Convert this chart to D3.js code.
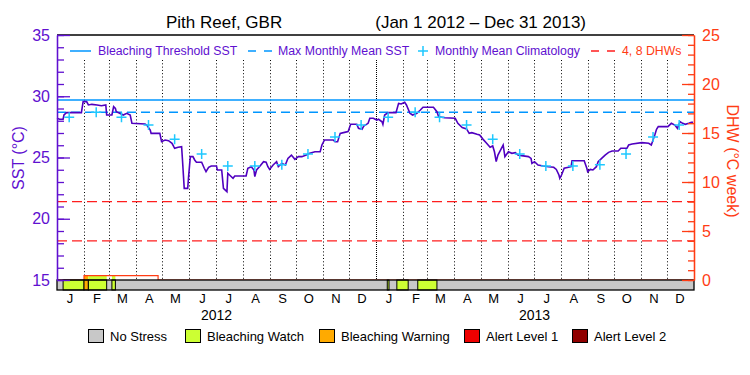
<!DOCTYPE html>
<html>
<head>
<meta charset="utf-8">
<script src="https://cdn.jsdelivr.net/npm/d3@7"></script>
<style>
body { margin: 0; background: #fff; }
text { font-family: "Liberation Sans", Arial, sans-serif; }
</style>
</head>
<body>
<div id="chart"></div>
<script>
// daily SST: days after Jan 1 2012 and value in degC
let sstDay = [0,3,7,8,11,28,30,34,36,40,46,51,56,57,63,65,67,68,72,76,80,84,86,101,103,107,108,118,120,124,
  128,132,134,135,139,143,144,146,150,151,152,153,156,158,160,166,169,171,174,177,183,184,189,191,195,196,198,202,204,217,
  219,223,226,227,229,233,237,240,242,244,248,252,254,258,262,265,269,273,277,281,286,290,296,302,304,307,317,319,322,325,
  330,334,337,344,346,350,352,357,359,363,367,369,373,374,376,380,389,392,395,399,401,405,408,413,417,420,432,436,438,445,
  457,460,465,470,473,476,482,485,489,493,497,500,502,504,506,510,512,514,518,522,526,529,533,541,544,545,548,552,558,564,
  570,573,576,577,579,582,587,590,591,605,608,609,612,615,619,621,625,629,633,637,644,647,654,656,660,671,679,682,684,686,
  688,690,701,705,709,712,715,718,721,725,728,730];
let sstValue = [28.20,28.12,28.12,28.47,28.66,28.66,29.56,29.56,29.29,29.34,29.29,29.23,29.29,28.47,28.47,29.15,29.01,28.74,28.61,28.47,28.61,28.47,27.79,27.73,27.65,27.24,26.97,26.97,26.29,26.43,
  26.37,26.16,25.88,25.75,25.83,25.88,24.80,22.48,22.48,23.44,24.25,25.07,25.07,24.80,24.61,24.61,24.12,23.84,24.20,24.31,24.31,23.98,23.98,22.48,22.21,23.71,23.57,23.30,23.49,23.49,
  24.12,24.25,23.98,23.44,23.98,24.31,24.66,24.61,24.25,24.03,24.39,24.66,24.25,24.52,24.39,24.93,25.20,24.85,25.07,25.07,25.20,25.34,25.47,25.47,26.02,26.43,26.43,26.29,26.29,26.97,
  27.05,27.11,27.71,27.71,27.38,27.30,27.57,27.79,28.20,28.20,28.06,28.12,27.92,27.71,28.47,28.66,28.66,29.42,29.37,29.50,29.29,28.61,28.47,28.61,28.88,29.10,29.10,28.74,28.33,28.25,
  28.20,27.79,27.44,27.33,26.97,27.03,26.89,26.84,26.48,26.16,25.83,25.94,25.47,24.66,25.20,25.75,26.02,25.07,25.47,25.34,25.39,25.20,25.15,25.07,24.93,24.52,24.66,24.39,24.31,24.25,
  24.20,24.03,23.57,23.30,23.57,24.12,24.20,24.25,24.74,24.74,24.12,23.84,24.03,23.98,24.25,24.66,24.93,25.20,25.42,25.53,25.53,25.75,25.75,26.02,26.10,26.21,26.16,26.02,26.43,26.84,
  27.30,27.52,27.52,27.79,27.65,27.38,27.93,27.79,27.71,27.79,27.87,27.87];

// monthly mean climatology (Jan..Dec), plotted mid-month each year
let climValue = [28.28,28.69,28.28,27.65,26.48,25.29,24.31,24.31,24.41,25.28,26.67,27.65];
let climYears = [2012, 2013];

let mmm = 28.69;
let threshold = 29.69;
let dhwLevels = [4, 8];

// degree heating weeks (step)
let dhwDate = ["2012-01-01","2012-02-01","2012-04-26","2013-12-31"];
let dhwValue = [0, 0.45, 0, 0];

// stress periods on the bar
let stressStart = ["2012-01-08","2012-02-01","2012-02-06","2012-03-04","2013-01-14","2013-01-25","2013-02-18"];
let stressEnd   = ["2012-02-01","2012-02-06","2012-02-27","2012-03-08","2013-01-16","2013-02-07","2013-03-12"];
let stressLevel = [1,2,1,1,1,1,1];

let stressNames = ["No Stress","Bleaching Watch","Bleaching Warning","Alert Level 1","Alert Level 2"];
let stressColors = ["#c8c8c8","#ccff33","#ffaa00","#ee0000","#900000"];

let monthLetters = ["J","F","M","A","M","J","J","A","S","O","N","D"];
let yearLabels = ["2012","2013"];
let sstTicks = [15,20,25,30,35];
let dhwTicks = [0,5,10,15,20,25];

var purple = "#6010d0";
var lineColor = "#5000c0";
var orange = "#ff3c14";
var blue = "#0096ff";
var cyan = "#1ec8ff";
var red = "#ff1e1e";

var parse = d3.timeParse("%Y-%m-%d");
var start = new Date(2012, 0, 1);

let svg = d3.select('#chart')
    .append('svg')
    .attr('width', 750)
    .attr('height', 375);

let x = d3.scaleTime()
    .domain([start, new Date(2014, 0, 1)])
    .range([57, 694]);
let yS = d3.scaleLinear()
    .domain([15, 35])
    .range([280, 35]);
let yD = d3.scaleLinear()
    .domain([0, 25])
    .range([280, 35]);

// title
svg.append('text').attr('x', 166).attr('y', 28).attr('font-size', 17).text('Pith Reef, GBR');
svg.append('text').attr('x', 586).attr('y', 28).attr('font-size', 17).attr('text-anchor', 'end')
    .text('(Jan 1 2012 \u2013 Dec 31 2013)');

// month separators
d3.timeMonth.range(new Date(2012, 1, 1), new Date(2014, 0, 1)).forEach(m => {
    let xx = Math.round(x(m)) + 0.5;
    svg.append('line')
        .attr('x1', xx).attr('x2', xx)
        .attr('y1', 60).attr('y2', 280)
        .attr('stroke', 'black')
        .attr('stroke-dasharray', m.getMonth() === 0 ? '1,1' : '1,2.3');
});

// threshold lines
svg.append('line')
    .attr('x1', 57).attr('x2', 694)
    .attr('y1', yS(threshold)).attr('y2', yS(threshold))
    .attr('stroke', blue).attr('stroke-width', 1.5);
svg.append('line')
    .attr('x1', 57).attr('x2', 694)
    .attr('y1', yS(mmm)).attr('y2', yS(mmm))
    .attr('stroke', blue).attr('stroke-width', 1.5)
    .attr('stroke-dasharray', '9,5');
dhwLevels.forEach(v => {
    svg.append('line')
        .attr('x1', 57).attr('x2', 694)
        .attr('y1', yD(v)).attr('y2', yD(v))
        .attr('stroke', red).attr('stroke-width', 1.2)
        .attr('stroke-dasharray', '10,5');
});

// dhw fill coloured by stress level, under the dhw step
function dhwAt(d) {
    let v = 0;
    dhwDate.forEach((s, i) => { if (parse(s) <= d) v = dhwValue[i]; });
    return v;
}
stressStart.forEach((s, i) => {
    let d0 = parse(s), d1 = parse(stressEnd[i]);
    let v = dhwAt(d0);
    if (v > 0) {
        svg.append('rect')
            .attr('x', x(d0)).attr('width', x(d1) - x(d0))
            .attr('y', yD(v)).attr('height', yD(0) - yD(v))
            .attr('fill', stressColors[stressLevel[i]]);
    }
});
let dhwLine = d3.line()
    .x((d, i) => x(parse(d)))
    .y((d, i) => yD(dhwValue[i]))
    .curve(d3.curveStepAfter);
svg.append('path')
    .attr('d', dhwLine(dhwDate))
    .attr('fill', 'none')
    .attr('stroke', orange)
    .attr('stroke-width', 1.2);

// sst
let sstLine = d3.line()
    .x((d, i) => x(d3.timeDay.offset(start, d)))
    .y((d, i) => yS(sstValue[i]));
svg.append('path')
    .attr('d', sstLine(sstDay))
    .attr('fill', 'none')
    .attr('stroke', lineColor)
    .attr('stroke-width', 1.6);

// climatology crosses
climYears.forEach(yr => {
    climValue.forEach((v, m) => {
        let cx = x(new Date(yr, m, 15)), cy = yS(v);
        svg.append('path')
            .attr('d', `M${cx-5},${cy}H${cx+5}M${cx},${cy-5}V${cy+5}`)
            .attr('stroke', cyan)
            .attr('stroke-width', 1.5);
    });
});

// stress bar
svg.append('rect')
    .attr('x', 57).attr('y', 280).attr('width', 637).attr('height', 10)
    .attr('fill', stressColors[0]);
stressStart.forEach((s, i) => {
    let d0 = parse(s), d1 = parse(stressEnd[i]);
    svg.append('rect')
        .attr('x', x(d0)).attr('width', x(d1) - x(d0))
        .attr('y', 280).attr('height', 10)
        .attr('fill', stressColors[stressLevel[i]])
        .attr('stroke', 'black').attr('stroke-width', 1);
});
svg.append('rect')
    .attr('x', 57).attr('y', 280).attr('width', 637).attr('height', 10)
    .attr('fill', 'none').attr('stroke', 'black').attr('stroke-width', 1.3);

// top border
svg.append('line')
    .attr('x1', 57).attr('x2', 694).attr('y1', 35).attr('y2', 35)
    .attr('stroke', 'black').attr('stroke-width', 1.3);

// left axis
let leftMinor = svg.append('g').attr('transform', 'translate(57,0)')
    .call(d3.axisLeft(yS).tickValues(d3.range(15, 36)).tickSizeInner(-7).tickSizeOuter(0).tickFormat(''));
let leftMajor = svg.append('g').attr('transform', 'translate(57,0)')
    .call(d3.axisLeft(yS).tickValues(sstTicks).tickSizeInner(-13).tickSizeOuter(0).tickPadding(7));
[leftMinor, leftMajor].forEach(g => {
    g.selectAll('path, line').attr('stroke', purple).attr('stroke-width', 1.3);
    g.selectAll('text').attr('fill', purple).attr('font-size', 16)
        .attr('font-family', '"Liberation Sans", Arial, sans-serif');
});

// right axis
let rightMinor = svg.append('g').attr('transform', 'translate(694,0)')
    .call(d3.axisRight(yD).tickValues(d3.range(0, 26)).tickSizeInner(-6).tickSizeOuter(0).tickFormat(''));
let rightMajor = svg.append('g').attr('transform', 'translate(694,0)')
    .call(d3.axisRight(yD).tickValues(dhwTicks).tickSizeInner(-12).tickSizeOuter(0).tickPadding(8));
[rightMinor, rightMajor].forEach(g => {
    g.selectAll('path, line').attr('stroke', orange).attr('stroke-width', 1.3);
    g.selectAll('text').attr('fill', orange).attr('font-size', 16)
        .attr('font-family', '"Liberation Sans", Arial, sans-serif');
});

// axis titles
svg.append('text')
    .attr('transform', 'translate(24,158) rotate(-90)')
    .attr('text-anchor', 'middle')
    .attr('font-size', 16).attr('fill', purple)
    .text('SST (\u00b0C)');
svg.append('text')
    .attr('transform', 'translate(727,161) rotate(90)')
    .attr('text-anchor', 'middle')
    .attr('font-size', 16).attr('fill', orange)
    .text('DHW (\u00b0C week)');

// month and year labels
d3.timeMonth.range(start, new Date(2014, 0, 1)).forEach(m => {
    let mid = new Date(m.getFullYear(), m.getMonth(), 16);
    svg.append('text')
        .attr('x', x(mid)).attr('y', 303)
        .attr('text-anchor', 'middle').attr('font-size', 13)
        .text(monthLetters[m.getMonth()]);
});
yearLabels.forEach((yr, i) => {
    let mid = new Date(+yr, 6, 2);
    svg.append('text')
        .attr('x', x(mid)).attr('y', 320)
        .attr('text-anchor', 'middle').attr('font-size', 14)
        .text(yr);
});

// top legend
let ly = 51;
svg.append('line').attr('x1', 70).attr('x2', 91).attr('y1', ly).attr('y2', ly)
    .attr('stroke', blue).attr('stroke-width', 1.5);
svg.append('text').attr('x', 98).attr('y', ly + 4).attr('font-size', 12.3).attr('fill', purple)
    .text('Bleaching Threshold SST');
svg.append('line').attr('x1', 248).attr('x2', 272).attr('y1', ly).attr('y2', ly)
    .attr('stroke', blue).attr('stroke-width', 1.5).attr('stroke-dasharray', '8,8');
svg.append('text').attr('x', 278).attr('y', ly + 4).attr('font-size', 12.3).attr('fill', purple)
    .text('Max Monthly Mean SST');
svg.append('path').attr('d', `M418,${ly}H428M423,${ly-5}V${ly+5}`)
    .attr('stroke', cyan).attr('stroke-width', 1.5);
svg.append('text').attr('x', 435).attr('y', ly + 4).attr('font-size', 12.3).attr('fill', purple)
    .text('Monthly Mean Climatology');
svg.append('line').attr('x1', 591).attr('x2', 615).attr('y1', ly).attr('y2', ly)
    .attr('stroke', red).attr('stroke-width', 1.3).attr('stroke-dasharray', '8,8');
svg.append('text').attr('x', 622).attr('y', ly + 4).attr('font-size', 12.3).attr('fill', orange)
    .text('4, 8 DHWs');

// stress legend
let legX = [88, 185, 319, 464, 572];
stressNames.forEach((name, i) => {
    svg.append('rect')
        .attr('x', legX[i] + 0.5).attr('y', 329.5)
        .attr('width', 15).attr('height', 13)
        .attr('fill', stressColors[i])
        .attr('stroke', 'black');
    svg.append('text')
        .attr('x', legX[i] + 22).attr('y', 341)
        .attr('font-size', 13)
        .text(name);
});
</script>
</body>
</html>
